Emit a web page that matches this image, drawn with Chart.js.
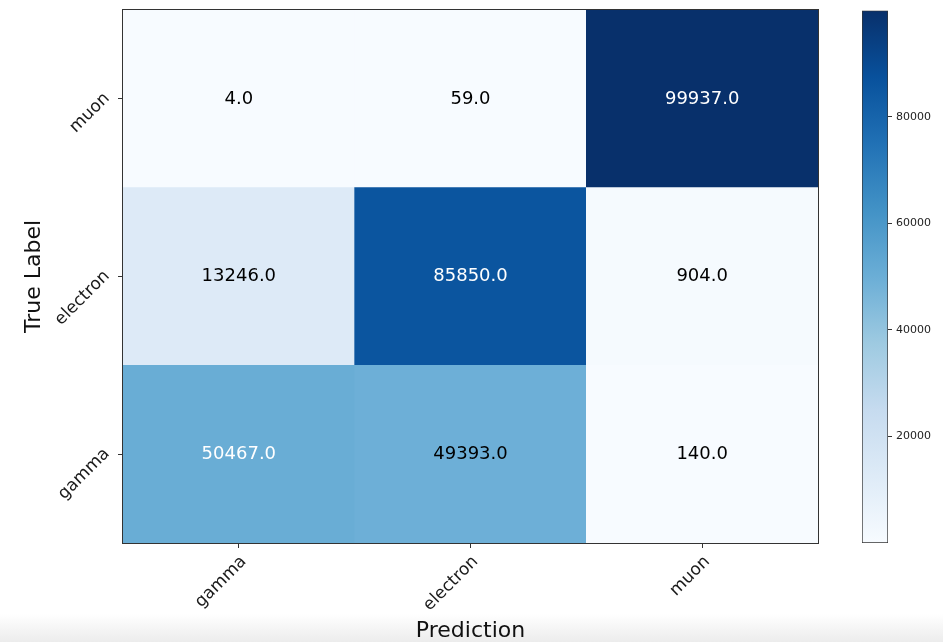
<!DOCTYPE html>
<html>
<head>
<meta charset="utf-8">
<title>Confusion matrix</title>
<script src="https://cdn.jsdelivr.net/npm/chart.js@4.4.1/dist/chart.umd.min.js"></script>
<style>
  html, body { margin: 0; padding: 0; }
  body {
    width: 943px;
    height: 642px;
    overflow: hidden;
    position: relative;
    background: linear-gradient(to bottom, #ffffff 0px, #ffffff 614px, #ececec 642px);
  }
  canvas { position: absolute; left: 0; top: 0; }
</style>
</head>
<body>
<canvas id="matrix" width="943" height="642"></canvas>
<canvas id="colorbar" width="943" height="642"></canvas>
<script>
// class names, used for both axes
const classes = ['gamma', 'electron', 'muon'];

// one row per true label, columns = predicted label
const gammaRow = [50467, 49393, 140];
const electronRow = [13246, 85850, 904];
const muonRow = [4, 59, 99937];
const rows = [gammaRow, electronRow, muonRow];

const colorbarTicks = [20000, 40000, 60000, 80000];

const vmin = Math.min(...rows.flat());
const vmax = Math.max(...rows.flat());

// matplotlib "Blues" colormap control points
const blues = ['#f7fbff', '#deebf7', '#c6dbef', '#9ecae1', '#6baed6',
               '#4292c6', '#2171b5', '#08519c', '#08306b'];

function hexToRgb(h) {
  const n = parseInt(h.slice(1), 16);
  return [(n >> 16) & 255, (n >> 8) & 255, n & 255];
}

function blue(t) {
  t = Math.max(0, Math.min(1, t));
  const pos = t * (blues.length - 1);
  const k = Math.min(Math.floor(pos), blues.length - 2);
  const f = pos - k;
  const a = hexToRgb(blues[k]), b = hexToRgb(blues[k + 1]);
  const c = a.map((v, i) => Math.round(v + (b[i] - v) * f));
  return `rgb(${c[0]},${c[1]},${c[2]})`;
}

const FONT = '"DejaVu Sans", "Liberation Sans", sans-serif';
Chart.defaults.font.family = FONT;

function drawRotated(ctx, text, x, y) {
  ctx.save();
  ctx.translate(x, y);
  ctx.rotate(-Math.PI / 4);
  ctx.fillText(text, 0, 0);
  ctx.restore();
}

// cell numbers, frame and the 45° tick labels
const matrixDecor = {
  id: 'matrixDecor',
  afterDatasetsDraw(chart) {
    const { ctx, chartArea: a, scales: { x, y } } = chart;
    ctx.save();

    ctx.font = '18px ' + FONT;
    ctx.textAlign = 'center';
    ctx.textBaseline = 'middle';
    chart.data.datasets.forEach((ds, i) => {
      chart.getDatasetMeta(i).data.forEach((bar, j) => {
        const v = ds.values[j];
        const p = bar.getCenterPoint();
        ctx.fillStyle = v > vmax / 2 ? '#ffffff' : '#000000';
        ctx.fillText(v.toFixed(1), p.x, p.y);
      });
    });

    ctx.strokeStyle = '#333333';
    ctx.lineWidth = 1;
    const l = Math.round(a.left) - 0.5, t = Math.round(a.top) - 0.5;
    ctx.strokeRect(l, t, Math.round(a.right) - l + 0.5, Math.round(a.bottom) - t + 0.5);

    ctx.font = '17px ' + FONT;
    ctx.fillStyle = '#1a1a1a';
    ctx.textAlign = 'right';
    ctx.textBaseline = 'middle';
    classes.forEach((c, i) => {
      drawRotated(ctx, c, x.getPixelForValue(i) + 5, a.bottom + 16);
      drawRotated(ctx, c, a.left - 16, y.getPixelForValue(i + 0.5) - 3);
    });

    ctx.restore();
  }
};

new Chart(document.getElementById('matrix'), {
  type: 'bar',
  data: {
    labels: classes,
    datasets: rows.map((row, i) => ({
      label: classes[i],
      data: row.map(() => [i, i + 1]),
      values: row,
      backgroundColor: row.map(v => blue((v - vmin) / (vmax - vmin))),
      borderWidth: 0,
      barPercentage: 1,
      categoryPercentage: 1
    }))
  },
  options: {
    responsive: false,
    animation: false,
    grouped: false,
    layout: { padding: { top: 10, right: 125, left: 0, bottom: 0 } },
    plugins: { legend: { display: false }, tooltip: { enabled: false } },
    scales: {
      x: {
        type: 'category',
        offset: true,
        grid: { offset: false, drawOnChartArea: false, tickLength: 5, color: '#333333' },
        border: { display: false },
        ticks: { display: false },
        title: {
          display: true, text: 'Prediction', color: '#111111',
          font: { size: 22, lineHeight: 1 }, padding: { top: 0, bottom: 0 }
        },
        afterFit: s => { s.height = 99; }
      },
      y: {
        type: 'linear',
        min: 0,
        max: 3,
        afterBuildTicks: s => { s.ticks = classes.map((c, i) => ({ value: i + 0.5 })); },
        grid: { drawOnChartArea: false, tickLength: 5, color: '#333333' },
        border: { display: false },
        ticks: { display: false },
        title: {
          display: true, text: 'True Label', color: '#111111',
          font: { size: 22 }, padding: { top: 21, bottom: 0 }
        },
        afterFit: s => { s.width = 123; }
      }
    }
  },
  plugins: [matrixDecor]
});

// colorbar: one floating bar from vmin to vmax filled with the colormap
new Chart(document.getElementById('colorbar'), {
  type: 'bar',
  data: {
    labels: [''],
    datasets: [{
      data: [[vmin, vmax]],
      backgroundColor: c => {
        const { ctx, chartArea, scales } = c.chart;
        if (!chartArea) return blues[4];
        const g = ctx.createLinearGradient(0, scales.y.getPixelForValue(vmin), 0, scales.y.getPixelForValue(vmax));
        blues.forEach((col, k) => g.addColorStop(k / (blues.length - 1), col));
        return g;
      },
      borderColor: '#333333',
      borderWidth: 1,
      borderSkipped: false,
      barPercentage: 1,
      categoryPercentage: 1
    }]
  },
  options: {
    responsive: false,
    animation: false,
    layout: { padding: { left: 862, top: 10, right: 0, bottom: 99 } },
    plugins: { legend: { display: false }, tooltip: { enabled: false } },
    scales: {
      x: { display: false },
      y: {
        position: 'right',
        min: vmin,
        max: vmax,
        afterBuildTicks: s => { s.ticks = colorbarTicks.map(v => ({ value: v })); },
        grid: { drawOnChartArea: false, tickLength: 4, color: '#333333' },
        border: { display: false },
        ticks: { padding: 4, color: '#222222', font: { size: 11 }, callback: v => String(v) },
        afterFit: s => { s.width = 55; }
      }
    }
  }
});
</script>
</body>
</html>
